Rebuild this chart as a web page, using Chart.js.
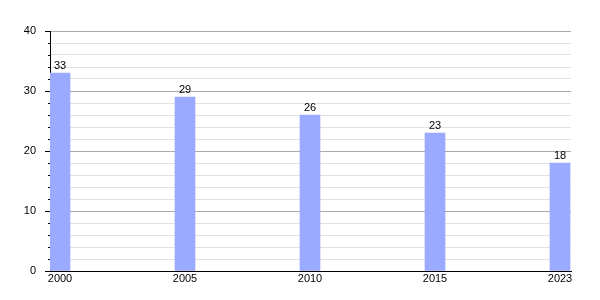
<!DOCTYPE html>
<html>
<head>
<meta charset="utf-8">
<script src="https://cdn.jsdelivr.net/npm/chart.js@4"></script>
<style>
  html, body { margin: 0; padding: 0; background: #fff; }
  #wrap { width: 600px; height: 300px; }
</style>
</head>
<body>
<div id="wrap"><canvas id="myChart"></canvas></div>
<script>
const years = ["2000", "2005", "2010", "2015", "2023"];
const values = [33, 29, 26, 23, 18];
const yTicks = [0, 10, 20, 30, 40];

Chart.defaults.font.family = "'Liberation Sans', Arial, sans-serif";
Chart.defaults.font.size = 11;
Chart.defaults.color = "#000";

// value labels above each bar
const barLabels = {
  id: "barLabels",
  afterDatasetsDraw(chart) {
    const c = chart.ctx;
    const meta = chart.getDatasetMeta(0);
    c.save();
    c.font = "11px 'Liberation Sans', Arial, sans-serif";
    c.fillStyle = "#000";
    c.textAlign = "center";
    c.textBaseline = "bottom";
    meta.data.forEach((bar, i) => {
      c.fillText(String(values[i]), bar.x, bar.y - 2);
    });
    c.restore();
  },
};

// y tick marks: long for labelled values, short for minor ones
const yTickMarks = {
  id: "yTickMarks",
  afterDraw(chart) {
    const c = chart.ctx;
    const y = chart.scales.y;
    const left = chart.chartArea.left;
    c.save();
    c.strokeStyle = "#000";
    c.lineWidth = 1;
    y.ticks.forEach((t) => {
      const py = Math.round(y.getPixelForValue(t.value)) + 0.5;
      const len = yTicks.includes(t.value) ? 5 : 2;
      c.beginPath();
      c.moveTo(left - len, py);
      c.lineTo(left, py);
      c.stroke();
    });
    c.restore();
  },
};

const ctx = document.getElementById("myChart");
new Chart(ctx, {
  type: "bar",
  data: {
    datasets: [
      {
        data: values.map((v, i) => ({ x: i, y: v })),
        backgroundColor: "#99aaff",
        barThickness: 20,
      },
    ],
  },
  options: {
    responsive: true,
    maintainAspectRatio: false,
    animation: false,
    layout: { padding: { top: 31, right: 29, left: 0, bottom: 0 } },
    plugins: { legend: { display: false }, tooltip: { enabled: false } },
    scales: {
      x: {
        type: "linear",
        offset: false,
        min: -0.08,
        max: 4.088,
        afterBuildTicks: (s) => {
          s.ticks = years.map((_, i) => ({ value: i }));
        },
        afterFit: (s) => {
          s.height = 29;
        },
        ticks: {
          autoSkip: false,
          maxRotation: 0,
          padding: 1,
          callback: (v) => years[v] ?? "",
        },
        grid: { display: false, drawTicks: false },
        border: { display: true, color: "#000", width: 1 },
      },
      y: {
        min: 0,
        max: 40,
        afterFit: (s) => {
          s.width = 50;
        },
        ticks: {
          stepSize: 2,
          autoSkip: false,
          padding: 14,
          callback: (v) => (yTicks.includes(v) ? v : ""),
        },
        grid: {
          drawTicks: false,
          color: (c) => (c.tick && yTicks.includes(c.tick.value) ? "#aaaaaa" : "#e2e2e2"),
        },
        border: { display: true, color: "#000", width: 1 },
      },
    },
  },
  plugins: [barLabels, yTickMarks],
});
</script>
</body>
</html>
